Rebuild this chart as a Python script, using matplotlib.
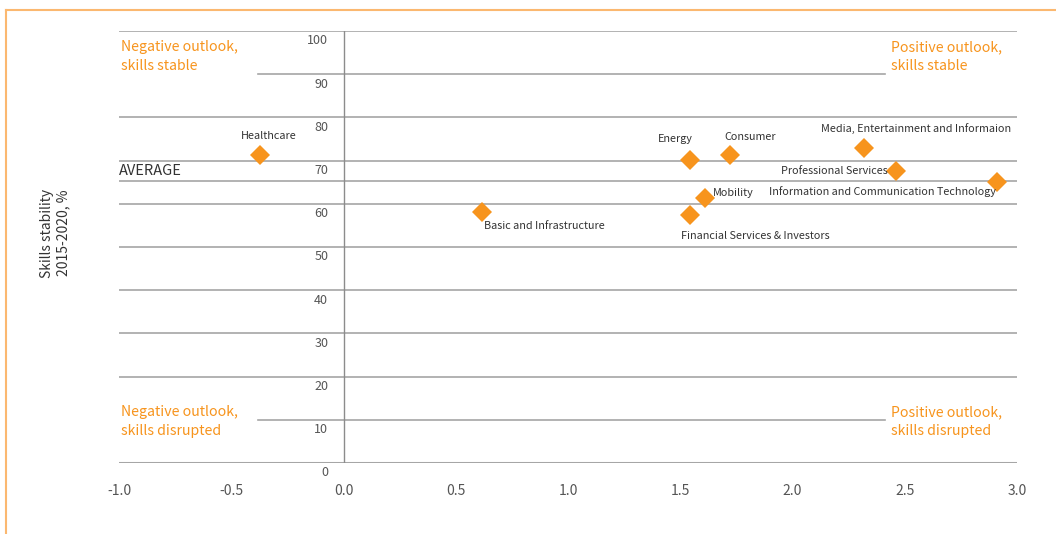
import matplotlib
matplotlib.use("Agg")
import matplotlib.pyplot as plt
import matplotlib.transforms as mtransforms
from matplotlib.lines import Line2D

plt.rcParams['font.family'] = ['Noto Sans CJK KR', 'DejaVu Sans']

industries = ["Healthcare", "Basic and Infrastructure", "Energy", "Consumer", "Mobility",
              "Financial Services & Investors", "Media, Entertainment and Informaion",
              "Professional Services", "Information and Communication Technology"]
outlook = [-0.37, 0.615, 1.545, 1.72, 1.61, 1.545, 2.32, 2.46, 2.91]
stability = [71.3, 58.1, 70.1, 71.3, 61.3, 57.4, 72.9, 67.6, 65.0]
average = 65.2
xticks = [-1.0, -0.5, 0.0, 0.5, 1.0, 1.5, 2.0, 2.5, 3.0]
xticklabels = ["-1.0", "-0.5", "0.0", "0.5", "1.0", "1.5", "2.0", "2.5", "3.0"]
yticks = [0, 10, 20, 30, 40, 50, 60, 70, 80, 90, 100]

# label offsets in points (dx, dy, ha, va)
label_pos = [(6, 10, 'center', 'bottom'), (2, -6.5, 'left', 'top'), (-11, 12, 'center', 'bottom'),
             (15, 9, 'center', 'bottom'), (6, 0, 'left', 'bottom'), (-7, -11.5, 'left', 'top'),
             (-31, 10, 'left', 'bottom'), (-6, 0, 'right', 'center'), (-1, -7, 'right', 'center')]

ORANGE = '#F7941D'
GRID = '#A6A6A6'
TXT = '#333333'

fig = plt.figure(figsize=(10.56, 5.34), dpi=100)
ax = fig.add_axes([119/1056, 1-463/534, (1017-119)/1056, (463-31)/534])
ax.set_xlim(-1, 3)
ax.set_ylim(0, 100)
for s in ax.spines.values():
    s.set_visible(False)

for y in yticks:
    if y in (10, 90):
        ax.axhline(y, xmin=(258-119)/898, xmax=(885-119)/898, color=GRID, lw=1.2, zorder=1)
    elif y == 0:
        ax.axhline(y, color=GRID, lw=2.2, zorder=1)
    else:
        ax.axhline(y, color=GRID, lw=1.2, zorder=1)
ax.axhline(average, color=GRID, lw=1.2, zorder=1)
ax.axvline(0, color='#8C8C8C', lw=1.0, zorder=1)

ax.text(-1, average + 0.8, "AVERAGE", ha='left', va='bottom', fontsize=10.5, color=TXT)

ax.set_xticks(xticks)
ax.set_xticklabels(xticklabels, fontsize=10, color='#555555')
ax.tick_params(axis='x', length=0, pad=15)

ax.spines['left'].set_position(('data', 0))
ax.set_yticks(yticks)
ax.set_yticklabels([str(v) for v in yticks], fontsize=9, color='#555555')
ax.tick_params(axis='y', length=0, pad=11)
off = mtransforms.ScaledTranslation(0, -10/100, fig.dpi_scale_trans)
for lab in ax.get_yticklabels():
    lab.set_transform(lab.get_transform() + off)
    lab.set_va('center')

ax.plot(outlook, stability, 'D', color=ORANGE, markersize=10, markeredgewidth=0, zorder=3, linestyle='none')
for name, x, y, (dx, dy, ha, va) in zip(industries, outlook, stability, label_pos):
    ax.annotate(name, (x, y), xytext=(dx, dy), textcoords='offset points', ha=ha, va=va,
                fontsize=7.8, color=TXT, zorder=4)

qfs = 10.2
ax.text(121/1056, 1-40/534, "Negative outlook,\nskills stable", transform=fig.transFigure,
        ha='left', va='top', fontsize=qfs, color=ORANGE, linespacing=1.5)
ax.text(891/1056, 1-40/534, "Positive outlook,\nskills stable", transform=fig.transFigure,
        ha='left', va='top', fontsize=qfs, color=ORANGE, linespacing=1.5)
ax.text(121/1056, 1-405/534, "Negative outlook,\nskills disrupted", transform=fig.transFigure,
        ha='left', va='top', fontsize=qfs, color=ORANGE, linespacing=1.5)
ax.text(891/1056, 1-405/534, "Positive outlook,\nskills disrupted", transform=fig.transFigure,
        ha='left', va='top', fontsize=qfs, color=ORANGE, linespacing=1.5)

fig.text(55/1056, 1-233/534, "Skills stability\n2015-2020, %", rotation=90, ha='center', va='center',
         fontsize=10, color=TXT, linespacing=1.2)

# orange frame
fig.add_artist(Line2D([6/1056, 1], [1-10/534, 1-10/534], color='#FBB870', lw=1.5, transform=fig.transFigure))
fig.add_artist(Line2D([6/1056, 6/1056], [0, 1-10/534], color='#FBB870', lw=1.5, transform=fig.transFigure))

fig.savefig("out.png", dpi=100)
